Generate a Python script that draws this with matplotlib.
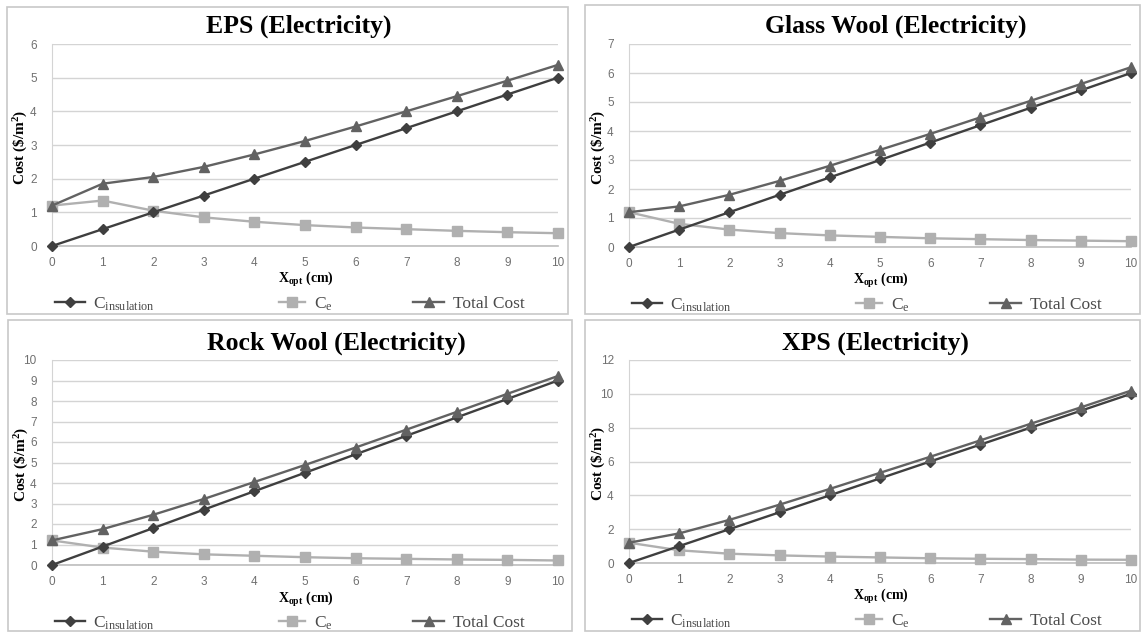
import matplotlib
matplotlib.use("Agg")
import matplotlib.pyplot as plt
from matplotlib.lines import Line2D
from matplotlib.patches import Rectangle

plt.rcParams['mathtext.fontset'] = 'custom'
plt.rcParams['mathtext.rm'] = 'Liberation Serif'
plt.rcParams['mathtext.it'] = 'Liberation Serif:italic'
plt.rcParams['mathtext.bf'] = 'Liberation Serif:bold'

x_cm = [0, 1, 2, 3, 4, 5, 6, 7, 8, 9, 10]

titles = ["EPS (Electricity)", "Glass Wool (Electricity)",
          "Rock Wool (Electricity)", "XPS (Electricity)"]

eps_ins = [0, 0.5, 1.0, 1.5, 2.0, 2.5, 3.0, 3.5, 4.0, 4.5, 5.0]
eps_ce = [1.2, 1.35, 1.05, 0.85, 0.72, 0.62, 0.55, 0.50, 0.45, 0.41, 0.38]
eps_tot = [1.2, 1.85, 2.05, 2.35, 2.72, 3.12, 3.55, 4.00, 4.45, 4.91, 5.38]

gw_ins = [0, 0.6, 1.2, 1.8, 2.4, 3.0, 3.6, 4.2, 4.8, 5.4, 6.0]
gw_ce = [1.2, 0.80, 0.60, 0.48, 0.40, 0.35, 0.30, 0.27, 0.24, 0.22, 0.20]
gw_tot = [1.2, 1.40, 1.80, 2.28, 2.80, 3.35, 3.90, 4.47, 5.04, 5.62, 6.20]

rw_ins = [0, 0.9, 1.8, 2.7, 3.6, 4.5, 5.4, 6.3, 7.2, 8.1, 9.0]
rw_ce = [1.2, 0.85, 0.65, 0.52, 0.45, 0.38, 0.33, 0.30, 0.27, 0.25, 0.22]
rw_tot = [1.2, 1.75, 2.45, 3.22, 4.05, 4.88, 5.73, 6.60, 7.47, 8.35, 9.22]

xps_ins = [0, 1.0, 2.0, 3.0, 4.0, 5.0, 6.0, 7.0, 8.0, 9.0, 10.0]
xps_ce = [1.2, 0.75, 0.55, 0.45, 0.38, 0.33, 0.28, 0.25, 0.23, 0.20, 0.19]
xps_tot = [1.2, 1.75, 2.55, 3.45, 4.38, 5.33, 6.28, 7.25, 8.23, 9.20, 10.19]

y_max = [6, 7, 10, 12]
y_step = [1, 1, 1, 2]

series = [(eps_ins, eps_ce, eps_tot), (gw_ins, gw_ce, gw_tot),
          (rw_ins, rw_ce, rw_tot), (xps_ins, xps_ce, xps_tot)]

legend_labels = [r"C$_{\mathrm{insulation}}$", r"C$_{\mathrm{e}}$", "Total Cost"]

W, H = 1144, 632
fig = plt.figure(figsize=(W / 100, H / 100), dpi=100)

# axes boxes in pixels: left, right, top(y px), bottom(y px)
boxes = [(52, 558, 44, 246), (629, 1131, 44, 247),
         (52, 558, 360, 565), (629, 1131, 360, 563)]
panels = [(7, 568, 7, 314), (585, 1140, 5, 314),
          (8, 572, 320, 631), (585, 1140, 320, 631)]
title_pos = [(299, 26), (896, 26), (336, 343), (875, 343)]

c_ins = "#3f3f3f"
c_ce = "#b0b0b0"
c_tot = "#626262"

serif = "Liberation Serif"

for i in range(4):
    px0, px1, py0, py1 = panels[i]
    fig.patches.append(Rectangle((px0 / W, 1 - py1 / H), (px1 - px0) / W, (py1 - py0) / H,
                                 transform=fig.transFigure, fill=False,
                                 edgecolor="#c8c8c8", linewidth=1.2))
    l, r, t, b = boxes[i]
    ax = fig.add_axes([l / W, 1 - b / H, (r - l) / W, (b - t) / H])
    ins, ce, tot = series[i]
    ax.plot(x_cm, ins, color=c_ins, marker="D", markersize=5, linewidth=1.7, clip_on=False, zorder=4)
    ax.plot(x_cm, ce, color=c_ce, marker="s", markersize=7, linewidth=1.7, clip_on=False, zorder=3)
    ax.plot(x_cm, tot, color=c_tot, marker="^", markersize=7, linewidth=1.7, clip_on=False, zorder=5)
    ax.set_xlim(0, 10)
    ax.set_ylim(0, y_max[i])
    ax.set_xticks(x_cm)
    ax.set_yticks(list(range(0, y_max[i] + 1, y_step[i])))
    ax.grid(axis="y", color="#d4d4d4", linewidth=1.0)
    ax.set_axisbelow(True)
    for s in ["top", "right"]:
        ax.spines[s].set_visible(False)
    ax.spines["left"].set_color("#d4d4d4")
    ax.spines["bottom"].set_color("#bdbdbd")
    ax.spines["bottom"].set_linewidth(1.2)
    ax.tick_params(length=0, labelsize=8.5, labelcolor="#707070")
    ax.tick_params(axis="x", pad=8)
    ax.tick_params(axis="y", pad=11)
    for lab in ax.get_xticklabels() + ax.get_yticklabels():
        lab.set_fontfamily("Liberation Sans")
    # title
    tx, ty = title_pos[i]
    fig.text(tx / W, 1 - ty / H, titles[i], ha="center", va="center",
             fontsize=18.5, fontweight="bold", family=serif)
    # x label
    fig.text(((l + r) / 2 + 1) / W, 1 - (b + 34) / H, r"X$_{\mathbf{opt}}$ (cm)", ha="center",
             va="center", fontsize=10, fontweight="bold", family=serif)
    # y label
    fig.text((px0 + 14) / W, 1 - ((t + b) / 2 + 2) / H, r"Cost (\$/m$^{\mathbf{2}}$)", ha="center",
             va="center", rotation=90, fontsize=11, fontweight="bold", family=serif)
    # legend entries
    handles = [Line2D([], [], color=c_ins, marker="D", markersize=5, linewidth=1.7),
               Line2D([], [], color=c_ce, marker="s", markersize=7, linewidth=1.7),
               Line2D([], [], color=c_tot, marker="^", markersize=7, linewidth=1.7)]
    leg_x = [l + 3, l + 227, l + 361]
    hl = [1.7, 1.5, 1.8]
    for k in range(3):
        fig.legend([handles[k]], [legend_labels[k]], loc="center left",
                   bbox_to_anchor=(leg_x[k] / W, 1 - (b + 58) / H),
                   frameon=False, prop={"family": serif, "size": 12.5},
                   handlelength=hl[k], handletextpad=0.5, borderaxespad=0,
                   borderpad=0, labelcolor="#4a4a4a")

fig.savefig("out.png", dpi=100, facecolor="white")
